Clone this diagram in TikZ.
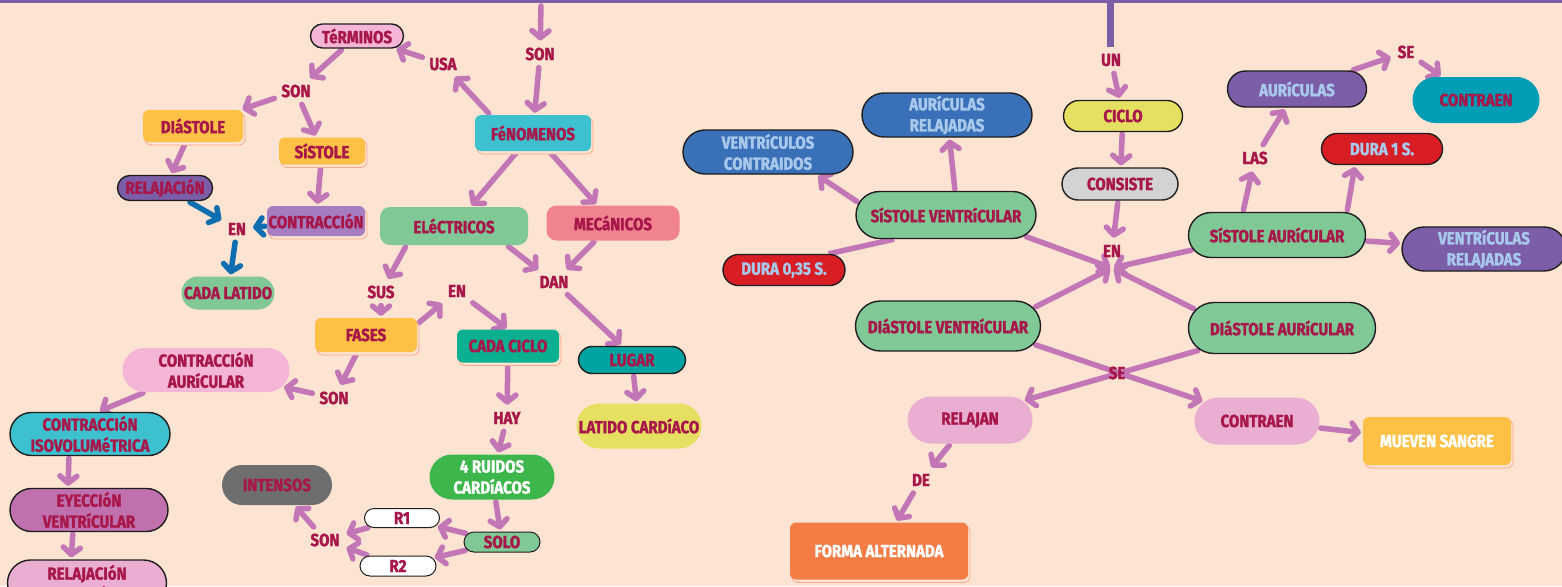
\documentclass[tikz,border=0pt]{standalone}
\usepackage{fontspec}
\setmainfont{Fira Sans}[FakeStretch=0.86, BoldFeatures={FakeBold=1.6}]
\usetikzlibrary{arrows.meta,shapes.misc,shadows}
\definecolor{bg}{HTML}{FDE3D2}
\definecolor{topline}{HTML}{7B5EA7}
\definecolor{arrc}{HTML}{C276B6}
\definecolor{bluea}{HTML}{0E6EAF}
\definecolor{crim}{HTML}{A8174A}
\definecolor{ltblue}{HTML}{A9C9EC}
\definecolor{ink}{HTML}{1E1E1E}
\definecolor{pinkL}{HTML}{F4B5D6}
\definecolor{cyanN}{HTML}{3EC1CF}
\definecolor{yell}{HTML}{FFC145}
\definecolor{purp}{HTML}{7B5EA7}
\definecolor{lav}{HTML}{A67DC0}
\definecolor{greenL}{HTML}{80C997}
\definecolor{pinkR}{HTML}{F1838F}
\definecolor{tealA}{HTML}{0AB08F}
\definecolor{tealB}{HTML}{00A39F}
\definecolor{tealC}{HTML}{009DB6}
\definecolor{ygreen}{HTML}{E6E062}
\definecolor{greenD}{HTML}{3DB64B}
\definecolor{grayD}{HTML}{6E6E6E}
\definecolor{grayL}{HTML}{D3D3D2}
\definecolor{magn}{HTML}{C170AE}
\definecolor{pinkM}{HTML}{E9AED2}
\definecolor{blueN}{HTML}{3A70B8}
\definecolor{redN}{HTML}{D91D25}
\definecolor{orangeN}{HTML}{F47C45}
\definecolor{salmon}{HTML}{F7A88A}
\pgfdeclarelayer{bgl}
\pgfdeclarelayer{edges}
\pgfsetlayers{bgl,edges,main}
\begin{document}
\begin{tikzpicture}[x=1pt,y=-1pt,
  txt/.style={font=\bfseries\fontsize{17.5}{21}\selectfont, text=crim, align=center, inner sep=0pt},
  lbl/.style={txt, inner sep=5pt},
  pill/.style={txt, rounded rectangle, draw=ink, line width=1.4pt},
  card/.style={txt, rectangle, rounded corners=6pt,
    copy shadow={shadow xshift=2pt, shadow yshift=-3pt, fill=bg, draw=salmon, line width=0.8pt}},
  flat/.style={txt, rectangle, rounded corners=10pt},
  blob/.style={txt, rounded rectangle},
  sz/.style 2 args={minimum width=#1pt, minimum height=#2pt},
  arr/.style={draw=arrc, line width=5.5pt, line cap=round, -{Straight Barb[length=7pt,width=17pt,line cap=round,line join=round]}, shorten >=2pt, shorten <=2pt},
  barrow/.style={arr, draw=bluea},
  ln/.style={draw=arrc, line width=5.5pt},
]
\useasboundingbox (0,0) rectangle (1562,586);
\begin{pgfonlayer}{bgl}
\fill[bg] (0,0) rectangle (1562,586);
\fill[topline] (0,0) rectangle (1562,3);
\fill[topline] (1107,3) rectangle (1114,47);
\end{pgfonlayer}

% ---------- left part ----------
\coordinate (topA) at (541,4);
\node[pill, fill=pinkL, sz={93}{24}] (term) at (357,36) {TéRMINOS};
\node[lbl] (usa) at (443,64) {USA};
\node[lbl] (son1) at (540,54) {SON};
\node[card, fill=cyanN, sz={116}{36}] (fen) at (533,133) {FéNOMENOS};
\node[lbl] (son2) at (296,91) {SON};
\node[card, fill=yell, sz={100}{32}] (dias) at (193,126) {DIáSTOLE};
\node[card, fill=yell, sz={86}{27}] (sist) at (322,151) {SíSTOLE};
\node[pill, fill=purp, sz={95}{25}] (rel) at (165,188) {RELAJACIóN};
\node[card, fill=lav, sz={98}{30}] (contr) at (316,221) {CONTRACCIóN};
\node[lbl] (en1) at (237,229) {EN};
\node[blob, fill=greenL, sz={93}{33}] (lat) at (228,293) {CADA LATIDO};
\node[flat, fill=greenL, sz={148}{38}] (elec) at (454,226) {ELéCTRICOS};
\node[flat, fill=pinkR, sz={133}{35}] (mec) at (613,223) {MECáNICOS};
\node[lbl] (sus) at (381,292) {SUS};
\node[lbl] (en2) at (457,291) {EN};
\node[lbl] (dan) at (554,282) {DAN};
\node[card, fill=yell, sz={102}{34}] (fases) at (366,335) {FASES};
\node[card, fill=tealA, sz={102}{33}] (ciclo) at (508,346) {CADA CICLO};
\node[pill, fill=tealB, sz={107}{27}] (lugar) at (632,360) {LUGAR};
\node[blob, fill=ygreen, sz={125}{45}] (latc) at (639,426) {LATIDO CARDíACO};
\node[lbl] (hay) at (507,418) {HAY};
\node[blob, fill=greenD, text=white, sz={125}{45}] (ruid) at (492,477) {4 RUIDOS\\CARDíACOS};
\node[pill, fill=greenL, line width=1pt, sz={76}{20}] (solo) at (502,542) {SOLO};
\node[pill, fill=white, line width=1pt, sz={75}{19}] (r1) at (402,518) {R1};
\node[pill, fill=white, line width=1pt, sz={76}{20}] (r2) at (398,566) {R2};
\node[lbl] (son3) at (325,540) {SON};
\node[blob, fill=grayD, sz={110}{40}] (int) at (277,485) {INTENSOS};
\node[lbl] (son4) at (334,398) {SON};
\node[blob, fill=pinkL, sz={167}{44}] (caur) at (206,370) {CONTRACCIóN\\AURíCULAR};
\node[pill, fill=cyanN, sz={160}{43}] (ciso) at (90,434) {CONTRACCIóN\\ISOVOLUMéTRICA};
\node[pill, fill=magn, sz={158}{43}] (eyec) at (89,510) {EYECCIóN\\VENTRíCULAR};
\node[pill, fill=pinkM, sz={159}{46}] (relv) at (87,583) {RELAJACIóN\\ISOVOLUMéTRICA};

% ---------- right part ----------
\node[lbl] (un) at (1111,60) {UN};
\node[pill, fill=ygreen, sz={119}{31}] (cic) at (1123,116) {CICLO};
\node[pill, fill=grayL, sz={116}{32}] (cons) at (1120,184) {CONSISTE};
\node[lbl] (en3) at (1112,251) {EN};
\coordinate (hub) at (1112,268);
\node[pill, fill=greenL, sz={180}{47}] (sv) at (946,215) {SíSTOLE VENTRíCULAR};
\node[pill, fill=blueN, text=ltblue, sz={170}{44}] (arel) at (947,115) {AURíCULAS\\RELAJADAS};
\node[pill, fill=blueN, text=ltblue, sz={170}{44}] (vcon) at (768,152) {VENTRíCULOS\\CONTRAIDOS};
\node[pill, fill=redN, text=ltblue, sz={122}{31}] (d035) at (784,270) {DURA 0,35 S.};
\node[pill, fill=greenL, sz={177}{45}] (sa) at (1277,235) {SíSTOLE AURíCULAR};
\node[lbl] (las) at (1255,158) {LAS};
\node[pill, fill=purp, text=ltblue, sz={139}{36}] (aur) at (1297,89) {AURíCULAS};
\node[lbl] (se1) at (1406,52) {SE};
\node[blob, fill=tealC, sz={127}{46}] (cont1) at (1476,100) {CONTRAEN};
\node[pill, fill=redN, text=ltblue, sz={121}{31}] (d1) at (1382,149) {DURA 1 S.};
\node[pill, fill=purp, text=ltblue, sz={164}{44}] (vrel) at (1484,249) {VENTRíCULAS\\RELAJADAS};
\node[pill, fill=greenL, sz={185}{50}] (dv) at (948,326) {DIáSTOLE VENTRíCULAR};
\node[pill, fill=greenL, sz={187}{51}] (da) at (1282,328) {DIáSTOLE AURíCULAR};
\node[lbl] (se2) at (1117,373) {SE};
\node[blob, fill=pinkM, sz={125}{47}] (relj) at (970,420) {RELAJAN};
\node[blob, fill=pinkM, sz={125}{47}] (cont2) at (1257,421) {CONTRAEN};
\node[card, fill=yell, text=white, sz={148}{48}] (muev) at (1437,441) {MUEVEN SANGRE};
\node[lbl] (de) at (921,480) {DE};
\node[card, fill=orangeN, text=white, sz={178}{57}] (forma) at (879,551) {FORMA ALTERNADA};

\begin{pgfonlayer}{edges}
% left
\draw[arr] (topA) -- (son1);
\draw[arr] (son1) -- (fen);
\draw[arr] (fen.157) -- (usa);
\draw[arr] (usa) -- (term);
\draw[arr] (term) -- (son2);
\draw[arr] (son2) -- (dias);
\draw[arr] (son2) -- (sist);
\draw[arr] (dias) -- (rel);
\draw[arr] (sist) -- (contr);
\draw[barrow] (rel) -- (en1);
\draw[barrow] (contr) -- (en1);
\draw[barrow] (en1) -- (lat);
\draw[arr] (fen) -- (elec);
\draw[arr] (fen) -- (mec);
\draw[arr] (elec.-158) -- (sus);
\draw[arr] (elec.-20) -- (dan);
\draw[arr] (mec) -- (dan);
\draw[arr] (sus) -- (sus |- fases.north);
\draw[arr] (fases.12) -- (en2);
\draw[arr] (en2) -- (ciclo.north);
\draw[arr] (dan) -- (lugar.125);
\draw[arr] (lugar) -- (latc);
\draw[arr] (ciclo) -- (hay);
\draw[arr] (hay) -- (ruid);
\draw[arr] (fases) -- (son4);
\draw[arr] (son4) -- (caur);
\draw[arr] (caur.200) -- (ciso.70);
\draw[arr] ([xshift=-21pt]ciso.south) -- ([xshift=-21pt]eyec.north);
\draw[arr] ([xshift=-16pt]eyec.south) -- ([xshift=-16pt]relv.north);
\draw[arr] (ruid) -- (solo);
\draw[arr] (solo) -- (r1);
\draw[arr] (solo) -- (r2);
\draw[arr] (r1) -- (son3);
\draw[arr] (r2) -- (son3);
\draw[arr] (son3) -- (int);
% right
\draw[arr] (un) -- (cic);
\draw[arr] (cic) -- (cons);
\draw[arr] (cons) -- (en3);
\draw[arr] ([xshift=9pt]sv.north) -- (arel);
\draw[arr] (sv.172) -- (vcon.-25);
\draw[ln] (sv.205) -- (d035.20);
\draw[arr] (sv.-15) -- (hub);
\draw[arr] (sa.190) -- (hub);
\draw[arr] (dv.12) -- (hub);
\draw[arr] (da.168) -- (hub);
\draw[arr] ([xshift=-34pt]sa.north) -- (las);
\draw[arr] (las) -- (aur);
\draw[arr] (aur) -- (se1);
\draw[arr] (se1) -- (cont1);
\draw[arr] ([xshift=70pt]sa.north) -- ([xshift=-27pt]d1.south);
\draw[arr] (sa) -- (vrel);
\draw[arr] (dv.-12) -- (cont2.160);
\draw[arr] (da.-165) -- (relj.20);
\draw[arr] (relj) -- (de);
\draw[arr] (de) -- (forma);
\draw[arr] (cont2) -- (muev);
\end{pgfonlayer}
\end{tikzpicture}
\end{document}
